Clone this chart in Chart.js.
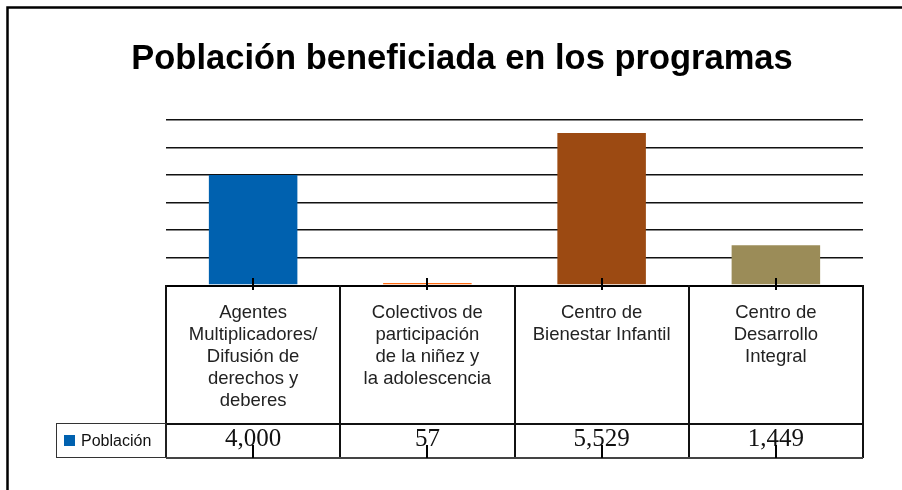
<!DOCTYPE html>
<html>
<head>
<meta charset="utf-8">
<script src="https://cdn.jsdelivr.net/npm/chart.js@4/dist/chart.umd.min.js"></script>
<style>
  html, body { margin: 0; padding: 0; background: #ffffff; }
  #wrap { width: 902px; height: 490px; }
</style>
</head>
<body>
<div id="wrap"><canvas id="c" width="902" height="490"></canvas></div>
<script>
const chartTitle = "Población beneficiada en los programas";
const categories = [
  ["Agentes", "Multiplicadores/", "Difusión de", "derechos y", "deberes"],
  ["Colectivos de", "participación", "de la niñez y", "la adolescencia"],
  ["Centro de", "Bienestar Infantil"],
  ["Centro de", "Desarrollo", "Integral"]
];
const seriesName = "Población";
const values = [4000, 57, 5529, 1449];
const valueLabels = ["4,000", "57", "5,529", "1,449"];
const barColors = ["#0061AF", "#FF6A10", "#9C4A12", "#9B8C58"];
const yMin = 0, yMax = 6000, yStep = 1000;

const tablePlugin = {
  id: "tablePlugin",
  beforeDatasetsDraw(chart) {
    const ctx = chart.ctx;
    const area = chart.chartArea;
    ctx.save();
    ctx.strokeStyle = "#000";
    ctx.lineWidth = 2;
    ctx.beginPath();
    ctx.moveTo(area.left, area.bottom + 1);
    ctx.lineTo(area.right, area.bottom + 1);
    ctx.stroke();
    ctx.restore();
  },
  afterDraw(chart) {
    const ctx = chart.ctx;
    const area = chart.chartArea;
    const xs = chart.scales.x;
    const n = categories.length;
    const catW = (area.right - area.left) / n;
    const headBottom = 424;
    const rowBottom = 458;
    ctx.save();

    // outer frame
    ctx.strokeStyle = "#000";
    ctx.lineWidth = 2.5;
    ctx.beginPath();
    ctx.moveTo(7.5, 490);
    ctx.lineTo(7.5, 7.5);
    ctx.lineTo(902, 7.5);
    ctx.stroke();

    // title
    ctx.fillStyle = "#000";
    ctx.font = "bold 34.5px 'Liberation Sans', Arial, sans-serif";
    ctx.textAlign = "center";
    ctx.textBaseline = "alphabetic";
    ctx.fillText(chartTitle, 462, 69);

    // table grid
    ctx.strokeStyle = "#111";
    ctx.lineWidth = 2;
    ctx.beginPath();
    for (let i = 0; i <= n; i++) {
      const x = Math.round(area.left + i * catW);
      ctx.moveTo(x, area.bottom);
      ctx.lineTo(x, rowBottom);
    }
    ctx.moveTo(area.left, headBottom);
    ctx.lineTo(area.right, headBottom);
    ctx.stroke();
    ctx.strokeStyle = "#444";
    ctx.beginPath();
    ctx.moveTo(area.left, rowBottom);
    ctx.lineTo(area.right, rowBottom);
    ctx.stroke();

    // legend cell
    ctx.strokeStyle = "#333";
    ctx.lineWidth = 1;
    ctx.strokeRect(56.5, 423.5, area.left - 56.5, 34);
    ctx.fillStyle = barColors[0];
    ctx.fillRect(64, 435, 11, 11);
    ctx.fillStyle = "#111";
    ctx.font = "16px 'Liberation Sans', Arial, sans-serif";
    ctx.textAlign = "left";
    ctx.fillText(seriesName, 81, 446);

    // category labels and values
    for (let i = 0; i < n; i++) {
      const cx = xs.getPixelForValue(i);
      ctx.fillStyle = "#222";
      ctx.font = "18.5px 'Liberation Sans', Arial, sans-serif";
      ctx.textAlign = "center";
      ctx.textBaseline = "middle";
      categories[i].forEach((line, j) => {
        ctx.fillText(line, cx, 313 + j * 21.9);
      });
      ctx.fillStyle = "#111";
      ctx.font = "25px 'Liberation Serif', 'Times New Roman', serif";
      ctx.textBaseline = "alphabetic";
      ctx.fillText(valueLabels[i], cx, 446);

      // tick marks
      ctx.strokeStyle = "#000";
      ctx.lineWidth = 2;
      ctx.beginPath();
      ctx.moveTo(Math.round(cx), area.bottom - 7);
      ctx.lineTo(Math.round(cx), area.bottom + 5);
      ctx.moveTo(Math.round(cx), rowBottom - 13);
      ctx.lineTo(Math.round(cx), rowBottom);
      ctx.stroke();
    }
    ctx.restore();
  }
};

new Chart(document.getElementById("c"), {
  type: "bar",
  data: {
    labels: categories,
    datasets: [{
      label: seriesName,
      data: values,
      backgroundColor: barColors,
      borderWidth: 0,
      barPercentage: 1,
      categoryPercentage: 0.508,
      minBarLength: 2
    }]
  },
  options: {
    responsive: false,
    animation: false,
    devicePixelRatio: 1,
    layout: { padding: { top: 120, left: 166, right: 39, bottom: 205 } },
    plugins: {
      legend: { display: false },
      title: { display: false },
      tooltip: { enabled: false }
    },
    scales: {
      x: { display: false },
      y: {
        min: yMin, max: yMax,
        ticks: { display: false, stepSize: yStep },
        grid: { color: (c) => c.index === 0 ? "rgba(0,0,0,0)" : "#111", lineWidth: 1.5, drawTicks: false },
        border: { display: false },
        afterFit(s) { s.width = 0; }
      }
    }
  },
  plugins: [tablePlugin]
});
</script>
</body>
</html>
